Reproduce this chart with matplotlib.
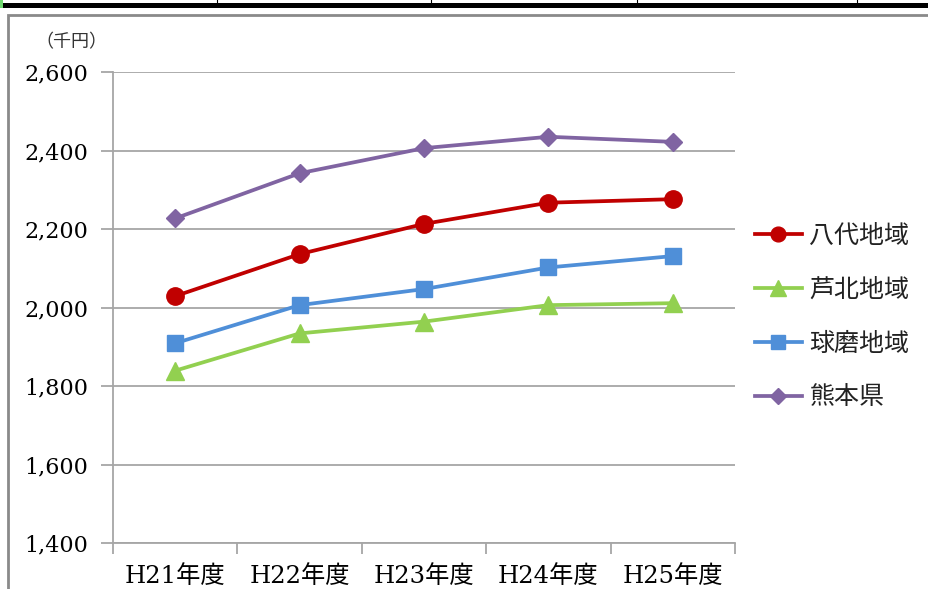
import matplotlib
matplotlib.use("Agg")
import matplotlib.pyplot as plt
from matplotlib.patches import Rectangle
from matplotlib.lines import Line2D

# 年度区分
years = ["H21年度", "H22年度", "H23年度", "H24年度", "H25年度"]

# 一人当たり所得（千円）
yatsushiro = [2029, 2136, 2213, 2267, 2276]
ashikita = [1839, 1934, 1964, 2006, 2011]
kuma = [1909, 2006, 2047, 2102, 2131]
kumamoto = [2227, 2342, 2406, 2435, 2422]

series_names = ["八代地域", "芦北地域", "球磨地域", "熊本県"]

y_ticks = [1400, 1600, 1800, 2000, 2200, 2400, 2600]

plt.rcParams["font.family"] = ["DejaVu Serif", "Noto Sans CJK JP"]

W, H = 929, 589
fig = plt.figure(figsize=(W / 100, H / 100), dpi=100)
fig.patch.set_facecolor("white")

# 上部の表罫線と外枠
fig.add_artist(Rectangle((0, 1 - 8 / H), 1, 5 / H, transform=fig.transFigure,
                         facecolor="black", edgecolor="none"))
fig.add_artist(Rectangle((0, 1 - 8 / H), 3 / W, 8 / H, transform=fig.transFigure,
                         facecolor="#6fd86f", edgecolor="none"))
for xv in [217, 431, 637, 857]:
    fig.add_artist(Line2D([xv / W, xv / W], [1 - 6 / H, 1], transform=fig.transFigure,
                          color="black", lw=0.8))
fig.add_artist(Rectangle((8 / W, -0.05), 1.0, 1 - 14.5 / H + 0.05,
                         transform=fig.transFigure, facecolor="none",
                         edgecolor="#8a8a8a", lw=2.0))

ax = fig.add_axes([113 / W, 1 - 543 / H, (735 - 113) / W, (543 - 72) / H])
ax.set_facecolor("white")

x = list(range(len(years)))
grid_c = "#a6a6a6"

ax.plot(x, yatsushiro, color="#c00000", lw=2.7, marker="o", ms=12.5,
        label=series_names[0], zorder=5)
ax.plot(x, ashikita, color="#92d050", lw=2.7, marker="^", ms=13.5,
        label=series_names[1], zorder=4)
ax.plot(x, kuma, color="#4f8fd8", lw=2.7, marker="s", ms=11.5,
        label=series_names[2], zorder=4)
ax.plot(x, kumamoto, color="#8064a2", lw=2.7, marker="D", ms=9.5,
        label=series_names[3], zorder=4)

ax.set_xlim(-0.5, len(years) - 0.5)
ax.set_ylim(1400, 2600)
ax.set_yticks(y_ticks)
ax.set_yticklabels([f"{v:,}" for v in y_ticks])
ax.yaxis.grid(True, color=grid_c, lw=1.3)
ax.set_axisbelow(True)

ax.set_xticks(x)
ax.set_xticklabels(years, family=["DejaVu Serif", "Noto Sans CJK JP"])
ax.set_xticks([i - 0.5 for i in range(len(years) + 1)], minor=True)
ax.tick_params(axis="x", which="major", length=0, pad=16, labelsize=17.5)
ax.tick_params(axis="x", which="minor", length=8, width=1.3, color=grid_c)
ax.tick_params(axis="y", length=9, width=1.3, color=grid_c, pad=9, labelsize=16)

for s in ["top", "right"]:
    ax.spines[s].set_visible(False)
for s in ["left", "bottom"]:
    ax.spines[s].set_color(grid_c)
    ax.spines[s].set_linewidth(1.3)

fig.text(71 / W, 1 - 42 / H, "（千円）", ha="center", va="center", fontsize=13,
         family=["Noto Sans CJK JP"], color="#333333")

leg = fig.legend(loc="upper left", bbox_to_anchor=(732 / W, 1 - 200 / H),
                 frameon=False, handlelength=1.9, handletextpad=0.3,
                 labelspacing=1.12, markerscale=0.85,
                 prop={"family": "Noto Sans CJK JP", "size": 18})
for t in leg.get_texts():
    t.set_color("#222222")

fig.savefig("out.png", dpi=100, facecolor="white")
